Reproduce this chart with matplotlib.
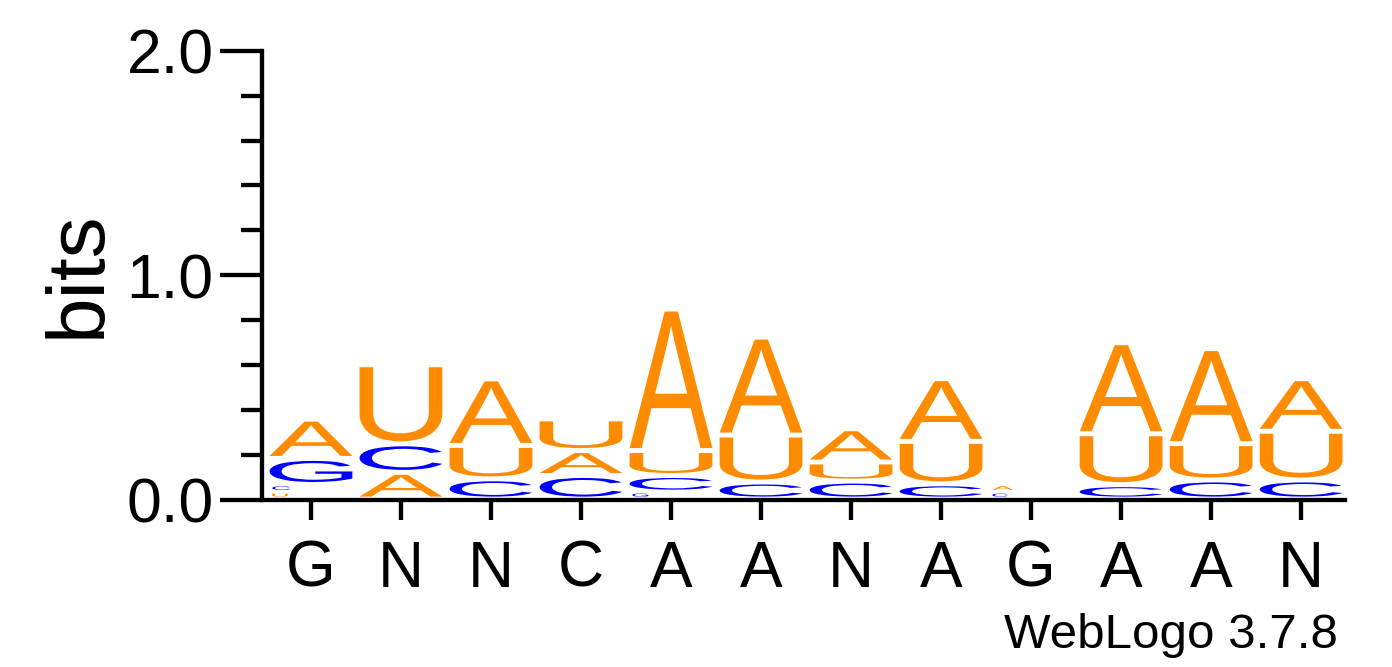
import numpy as np
import matplotlib
matplotlib.use('Agg')
import matplotlib.pyplot as plt
from matplotlib.textpath import TextPath
from matplotlib.patches import PathPatch
from matplotlib.font_manager import FontProperties
from matplotlib.transforms import Affine2D

plt.rcParams['font.family'] = ['Liberation Sans', 'DejaVu Sans']

# consensus labels under each column
xlabels = ['G', 'N', 'N', 'C', 'A', 'A', 'N', 'A', 'G', 'A', 'A', 'N']

# bits per letter per position
bits_A = [0.175, 0.119, 0.296, 0.111, 0.630, 0.436, 0.148, 0.279, 0.040, 0.405, 0.423, 0.234]
bits_C = [0.035, 0.127, 0.090, 0.105, 0.074, 0.076, 0.080, 0.068, 0.030, 0.064, 0.085, 0.085]
bits_G = [0.116, 0.0, 0.0, 0.0, 0.031, 0.0, 0.0, 0.0, 0.0, 0.0, 0.0, 0.0]
bits_U = [0.030, 0.352, 0.149, 0.141, 0.111, 0.209, 0.085, 0.189, 0.0, 0.227, 0.162, 0.217]

colors = {'A': '#ff8c00', 'U': '#ff8c00', 'C': '#0000ff', 'G': '#0000ff'}

GAP = 0.022          # white space between stacked letters
FLOOR = 0.015        # stacks sit on top of the axis line
LETTER_W = 0.92

fp = FontProperties(family='Liberation Sans')


def draw_letter(ax, ch, x0, y, w, h, color):
    tp = TextPath((0, 0), ch, size=100, prop=fp)
    bb = tp.get_extents()
    tr = Affine2D().translate(-bb.x0, -bb.y0) \
        .scale(w / bb.width, h / bb.height).translate(x0, y)
    ax.add_patch(PathPatch(tr.transform_path(tp), fc=color, ec='none', lw=0))


fig = plt.figure(figsize=(13.92, 6.67), dpi=100)
ax = fig.add_axes([0.1884, 0.2504, 0.7780, 0.6736])

table = {'A': bits_A, 'C': bits_C, 'G': bits_G, 'U': bits_U}
for i in range(len(xlabels)):
    col = [(table[k][i], k) for k in table if table[k][i] > 0]
    col.sort()
    y = FLOOR
    left = i + 1 - LETTER_W / 2
    for h, k in col:
        if h > 2 * GAP:
            draw_letter(ax, k, left, y, LETTER_W, h - GAP, colors[k])
        else:
            # tiny letters come out as small marks at the left of the column
            draw_letter(ax, k, left + 0.03, y, LETTER_W * h / 0.16, h * 0.45, colors[k])
        y += h

ax.set_xlim(0.459, 12.49)
ax.set_ylim(0, 2)

ax.set_xticks(np.arange(1, len(xlabels) + 1))
ax.set_xticklabels(xlabels)
ax.set_yticks([0, 1, 2])
ax.set_yticklabels(['0.0', '1.0', '2.0'])
ax.set_yticks(np.arange(0, 2.01, 0.2), minor=True)

ax.tick_params(axis='y', which='major', length=30, width=3.1, pad=5, labelsize=45)
ax.tick_params(axis='y', which='minor', length=15, width=3.1)
ax.tick_params(axis='x', which='major', length=14.5, width=3.1, pad=14, labelsize=46)

for s in ['top', 'right']:
    ax.spines[s].set_visible(False)
for s in ['left', 'bottom']:
    ax.spines[s].set_linewidth(3.1)

fig.text(99.3 / 1392, (667 - 274) / 667, 'bits', rotation=90, rotation_mode='anchor',
         ha='center', va='baseline', fontsize=59)
fig.text(1338 / 1392, (667 - 648.3) / 667, 'WebLogo 3.7.8', ha='right',
         va='baseline', fontsize=35.5)

fig.savefig('out.png', dpi=100)
